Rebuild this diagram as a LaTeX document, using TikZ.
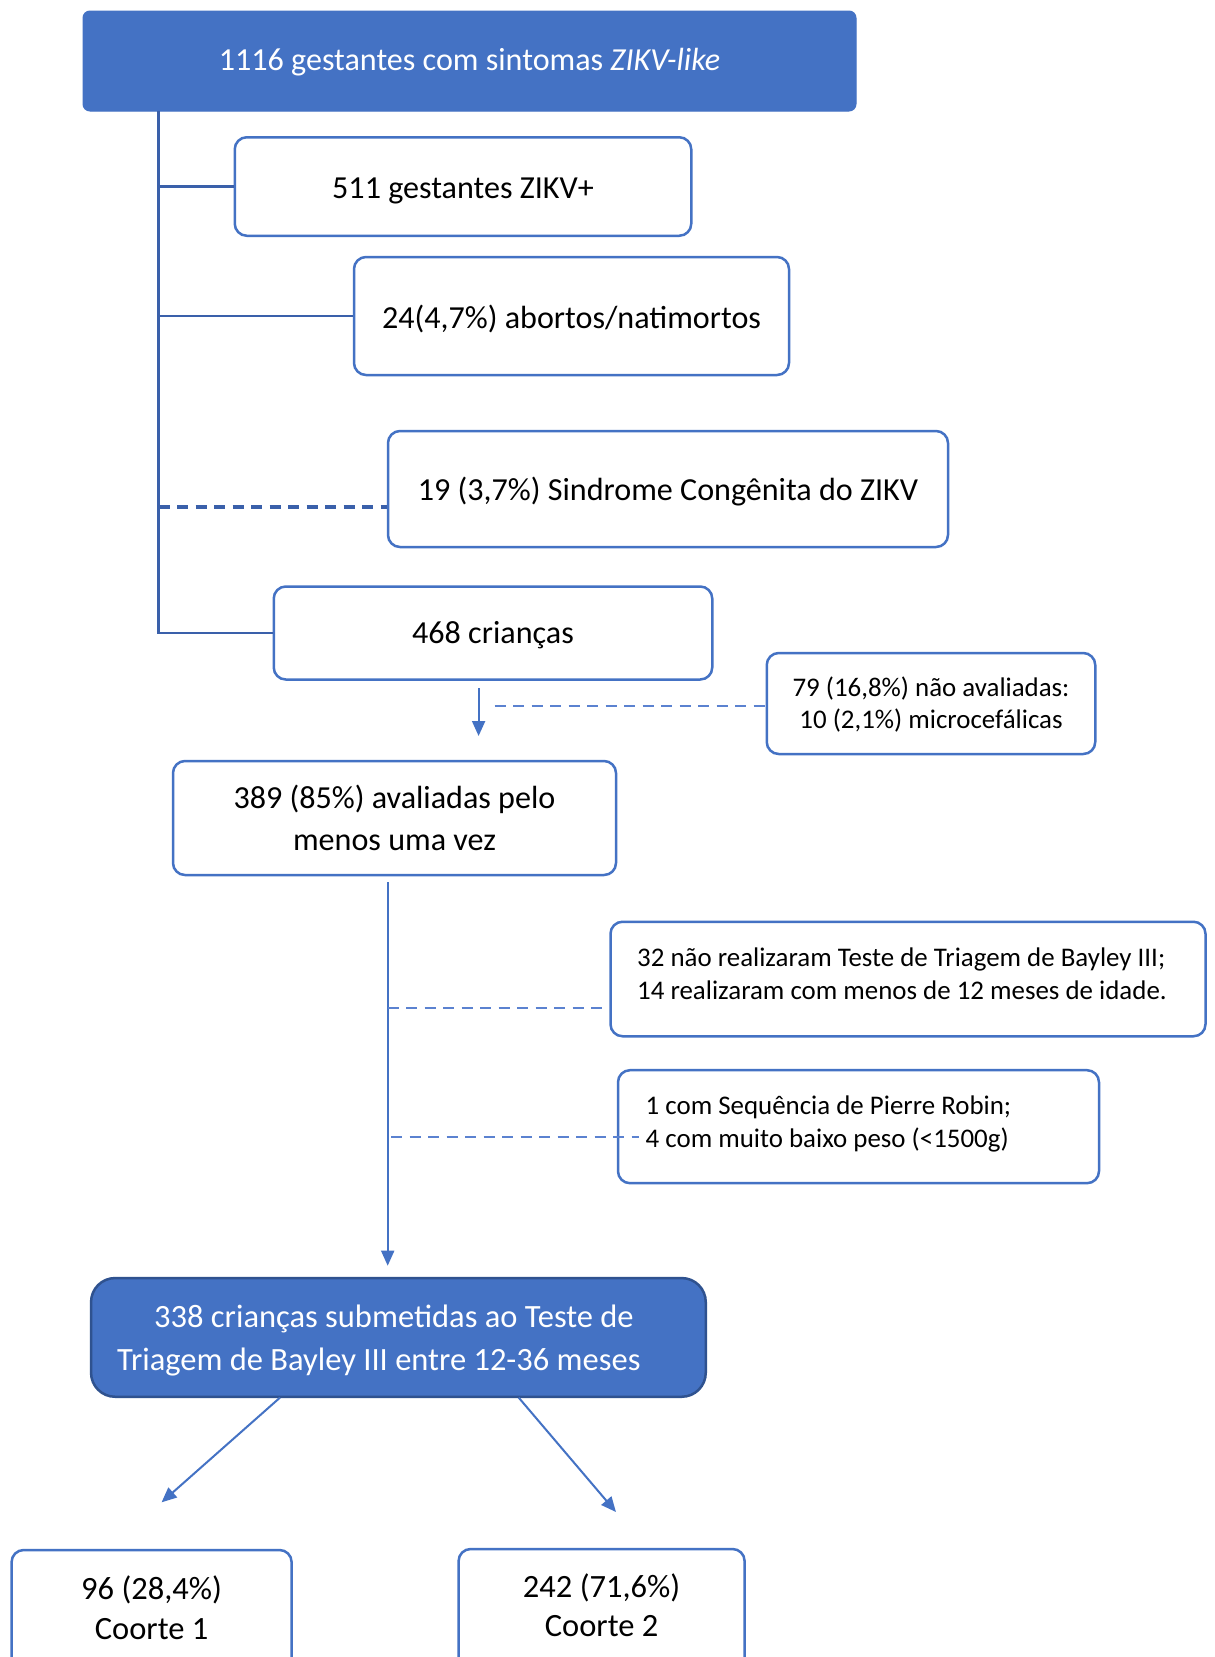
\documentclass[tikz,border=0pt]{standalone}
\usepackage{fontspec}
\setmainfont{Carlito}
\usetikzlibrary{arrows.meta}
\definecolor{zblue}{HTML}{4472C4}
\definecolor{zdark}{HTML}{2F528F}
\definecolor{ztrunk}{HTML}{3A60AA}
\definecolor{zdash}{HTML}{5B82D0}
\newcommand\zbig{\fontsize{32.1}{42.5}\selectfont}
\newcommand\zsmall{\fontsize{26.9}{32}\selectfont}
\begin{document}
\begin{tikzpicture}[x=1pt,y=-1pt,
  box/.style={draw=zblue, line width=2.5pt, rounded corners=12pt, fill=white, inner sep=0pt},
  topbox/.style={fill=zblue, draw=zblue, line width=1pt, rounded corners=7pt, inner sep=0pt},
  darkbox/.style={fill=zblue, draw=zdark, line width=2.5pt, rounded corners=24pt, inner sep=0pt},
  txt/.style={inner sep=0pt, align=center, font=\zbig},
  wtxt/.style={txt, text=white},
  lbl/.style={inner sep=0pt, align=left, font={\fontsize{26.9}{33}\selectfont}},
  conn/.style={draw=ztrunk, line width=2.7pt},
  dconn/.style={draw=zdash, line width=2.4pt, dash pattern=on 11pt off 7.5pt},
  dconnb/.style={draw=ztrunk, line width=3.2pt, dash pattern=on 11pt off 7.5pt},
  arr/.style={draw=zblue, line width=2pt, -{Triangle[length=15pt,width=13pt]}}
]
\useasboundingbox (0,0) rectangle (1215,1657);
\clip (0,0) rectangle (1215,1657);
\fill[white] (0,0) rectangle (1215,1657);

\node[topbox, minimum width=773pt, minimum height=100pt] (top) at (469.5,61) {};
\node[wtxt] (ttop) at ([yshift=-1pt]top.center) {1116 gestantes com sintomas \textit{ZIKV-like}};

\node[box, minimum width=456.5pt, minimum height=98.5pt] (b511) at (463,186.5) {};
\node[txt] (t511) at ([yshift=-4pt]b511.center) {511 gestantes ZIKV+};

\node[box, minimum width=435pt, minimum height=118pt] (b24) at (571.5,316) {};
\node[txt] (t24) at ([yshift=-2.5pt]b24.center) {24(4,7\%) abortos/natimortos};

\node[box, minimum width=560pt, minimum height=116pt] (b19) at (668,489) {};
\node[txt] (t19) at ([yshift=-2.5pt]b19.center) {19 (3,7\%) Sindrome Congênita do ZIKV};

\node[box, minimum width=438.5pt, minimum height=93pt] (b468) at (493,633) {};
\node[txt] (t468) at ([yshift=-2.5pt]b468.center) {468 crianças};

\node[box, minimum width=328.5pt, minimum height=101pt] (b79) at (931,703.5) {};
\node[txt, font=\zsmall] (t79) at ([yshift=-1pt]b79.center) {79 (16,8\%) não avaliadas:\\10 (2,1\%) microcefálicas};

\node[box, minimum width=443pt, minimum height=114pt] (b389) at (394.5,818) {};
\node[txt] (t389) at (b389.center) {389 (85\%) avaliadas pelo\\menos uma vez};

\node[box, minimum width=595pt, minimum height=114.5pt] (b32) at (908,979) {};
\node[lbl, anchor=west] (t32) at (637,973.5) {32 não realizaram Teste de Triagem de Bayley III;\\14 realizaram com menos de 12 meses de idade.};

\node[box, minimum width=481pt, minimum height=113pt] (b1) at (858.5,1126.7) {};
\node[lbl, anchor=west] (t1) at (645.5,1124) {1 com Sequência de Pierre Robin;\\4 com muito baixo peso (<1500g)};

\node[darkbox, minimum width=614.7pt, minimum height=118.7pt] (b338) at (398.4,1337.4) {};
\node[wtxt, align=left, anchor=west, font={\fontsize{32.5}{42.5}\selectfont}] (t338) at ([yshift=-3pt]117,1337.4) {\hspace*{37pt}338 crianças submetidas ao Teste de\\Triagem de Bayley III entre 12-36 meses};

\node[box, minimum width=280pt, minimum height=160pt] (b96) at (151.6,1630) {};
\node[txt, font={\fontsize{32.5}{39.5}\selectfont}] (t96) at (151.6,1607.5) {96 (28,4\%)\\Coorte 1};
\node[box, minimum width=286pt, minimum height=160pt] (b242) at (601.6,1629) {};
\node[txt, font={\fontsize{32.5}{39.5}\selectfont}] (t242) at (601.6,1605) {242 (71,6\%)\\Coorte 2};

% left trunk
\coordinate (vtop) at (158.5,111);
\coordinate (d19) at (158.5,507);
\draw[conn] (vtop) |- (b468.west);
\draw[conn] (vtop |- b511.west) -- (b511.west);
\draw[conn] (vtop |- b24.west) -- (b24.west);
\draw[dconnb] (d19) -- (d19 -| b19.west);

% 468 -> 389
\coordinate (a1s) at (478.6,688);
\coordinate (a1e) at (478.6,736);
\draw[arr] (a1s) -- (a1e);
\coordinate (d79) at (494.5,706);
\draw[dconn] (d79) -- (d79 -| b79.west);

% 389 -> 338
\coordinate (a2s) at (387.7,882);
\coordinate (a2e) at (387.7,1265.7);
\draw[arr, line width=1.8pt] (a2s) -- (a2e);
\coordinate (d32) at (387.7,1008);
\draw[dconn] (d32) -- (d32 -| b32.west);
\coordinate (d1s) at (391,1137);
\coordinate (d1e) at (639,1137);
\draw[dconn] (d1s) -- (d1e);

% 338 -> cohorts
\coordinate (c1s) at (280,1397.6);
\coordinate (c1e) at (161.6,1502.3);
\coordinate (c2s) at (518.7,1397.6);
\coordinate (c2e) at (616,1512);
\draw[arr] (c1s) -- (c1e);
\draw[arr] (c2s) -- (c2e);
\end{tikzpicture}
\end{document}
